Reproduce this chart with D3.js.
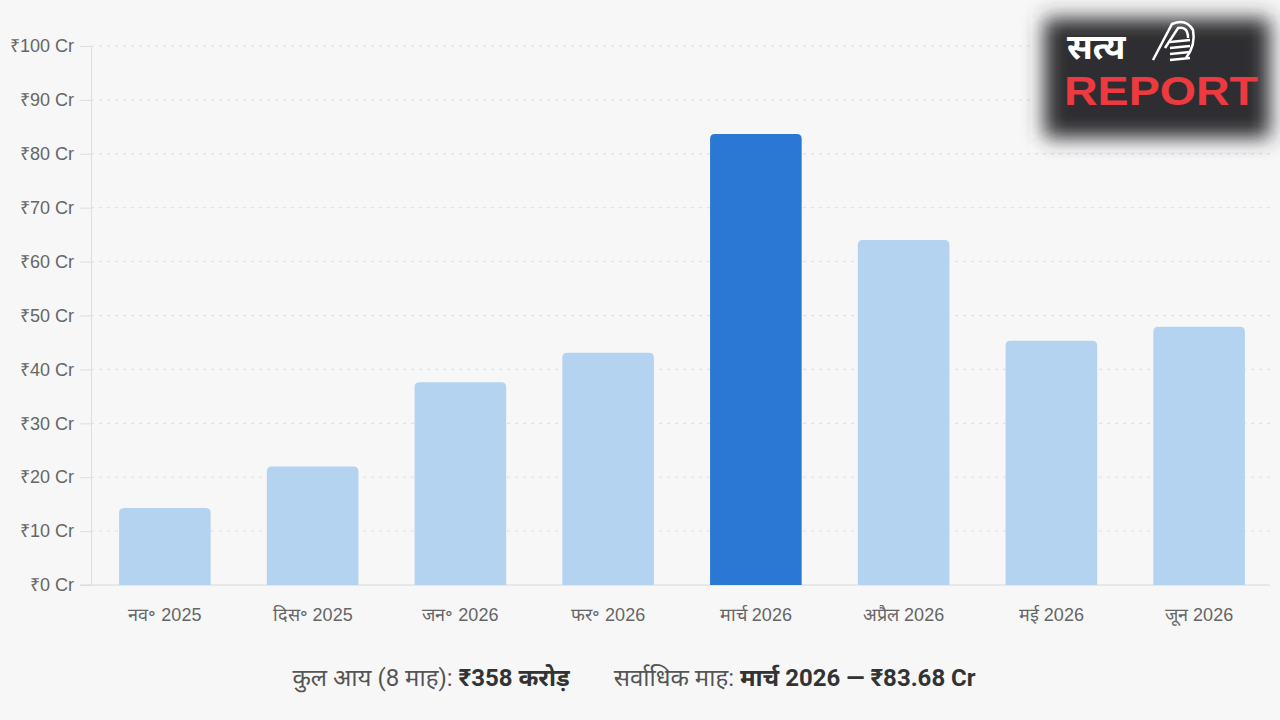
<!DOCTYPE html>
<html>
<head>
<meta charset="utf-8">
<script src="https://cdn.jsdelivr.net/npm/d3@7"></script>
<style>
  body { margin: 0; background: #f7f7f7; }
  svg { display: block; font-family: Roboto, "Noto Sans", "Noto Sans Devanagari", sans-serif; }
  .tick text { fill: #666; font-family: "Liberation Sans", Arial, sans-serif; }
</style>
</head>
<body>
<svg width="1280" height="720"></svg>
<script>
var months = ["नव॰ 2025", "दिस॰ 2025", "जन॰ 2026", "फर॰ 2026", "मार्च 2026", "अप्रैल 2026", "मई 2026", "जून 2026"];
var income = [14.3, 22.0, 37.6, 43.1, 83.68, 64.0, 45.3, 47.9];
var yTicks = [0, 10, 20, 30, 40, 50, 60, 70, 80, 90, 100];
var peakMonth = "मार्च 2026";

var svg = d3.select("svg"),
    width = +svg.attr("width"),
    height = +svg.attr("height"),
    margin = { top: 46, bottom: 135, left: 91, right: 7 };

svg.append("rect").attr("width", width).attr("height", height).attr("fill", "#f7f7f7");

var x = d3.scaleBand()
    .domain(months)
    .range([margin.left, width - margin.right])
    .paddingInner(0.38)
    .paddingOuter(0.19);

var y = d3.scaleLinear()
    .domain([0, 100])
    .range([height - margin.bottom, margin.top]);

// grid
svg.append("g")
  .selectAll("line")
  .data(yTicks.slice(1))
  .enter().append("line")
    .attr("x1", margin.left)
    .attr("x2", 1270)
    .attr("y1", function (d) { return y(d); })
    .attr("y2", function (d) { return y(d); })
    .attr("stroke", "#dcdcdc")
    .attr("stroke-dasharray", "3,5");

// y axis
var yAxis = svg.append("g")
    .attr("transform", "translate(" + margin.left + ",0)")
    .call(d3.axisLeft(y).tickValues(yTicks).tickSize(11).tickPadding(6)
      .tickFormat(function (d) { return "₹" + d + " Cr"; }));
yAxis.select(".domain").attr("stroke", "#dedede");
yAxis.selectAll(".tick line").attr("stroke", "#dedede");
yAxis.selectAll(".tick text").attr("font-size", 18).attr("fill", "#666");

// baseline
svg.append("line")
    .attr("x1", margin.left - 11).attr("x2", 1270)
    .attr("y1", y(0)).attr("y2", y(0))
    .attr("stroke", "#d8d8d8");

// bars (rounded top)
function barPath(d, i) {
  var x0 = x(months[i]), w = x.bandwidth(), y0 = y(0), y1 = y(d), r = 5;
  return "M" + x0 + "," + y0 +
    "V" + (y1 + r) + "Q" + x0 + "," + y1 + " " + (x0 + r) + "," + y1 +
    "H" + (x0 + w - r) + "Q" + (x0 + w) + "," + y1 + " " + (x0 + w) + "," + (y1 + r) +
    "V" + y0 + "Z";
}
svg.append("g")
  .selectAll("path")
  .data(income)
  .enter().append("path")
    .attr("d", barPath)
    .attr("fill", function (d, i) { return months[i] === peakMonth ? "#2a77d4" : "#b4d3f1"; });

// x labels
var xAxis = svg.append("g")
    .attr("transform", "translate(0," + y(0) + ")")
    .call(d3.axisBottom(x).tickSize(0).tickPadding(23));
xAxis.select(".domain").remove();
xAxis.selectAll(".tick text").attr("font-size", 18).attr("fill", "#666");

// footer summary
var footer = svg.append("text")
    .attr("x", 634)
    .attr("y", 686)
    .attr("text-anchor", "middle")
    .attr("font-size", 24)
    .attr("fill", "#555");
footer.append("tspan").text("कुल आय (8 माह): ");
footer.append("tspan").attr("font-weight", "bold").attr("fill", "#333")
    .text("₹" + Math.round(d3.sum(income)) + " करोड़");
footer.append("tspan").attr("dx", 44).text("सर्वाधिक माह: ");
footer.append("tspan").attr("font-weight", "bold").attr("fill", "#333")
    .text(peakMonth + " — ₹" + d3.max(income).toFixed(2) + " Cr");

// logo
var defs = svg.append("defs");
defs.append("filter").attr("id", "blur")
    .attr("x", "-20%").attr("y", "-20%").attr("width", "140%").attr("height", "140%")
  .append("feGaussianBlur").attr("stdDeviation", 10);
var logo = svg.append("g");
logo.append("rect")
    .attr("x", 1030).attr("y", 10).attr("width", 242).attr("height", 142)
    .attr("fill", "#fafafa");
logo.append("rect")
    .attr("x", 1044).attr("y", 18).attr("width", 226).attr("height", 120)
    .attr("fill", "#2e2e30").attr("filter", "url(#blur)");
logo.append("text")
    .attr("x", 1067).attr("y", 59)
    .attr("font-size", 35).attr("font-weight", "bold").attr("fill", "#fff")
    .text("सत्य");
// paper icon strokes
var icon = logo.append("g").attr("fill", "none").attr("stroke", "#fff").attr("stroke-width", 2.5);
icon.append("path").attr("d", "M1153,60 L1172,24 Q1186,18 1193,30 Q1196,45 1186,58");
icon.append("path").attr("d", "M1165,48 L1178,28 Q1188,26 1188,38");
[42, 48, 54, 60].forEach(function (yy) {
  icon.append("line").attr("x1", 1170).attr("x2", 1190).attr("y1", yy).attr("y2", yy - 2);
});
logo.append("text")
    .attr("x", 1064).attr("y", 105)
    .attr("font-size", 41).attr("font-weight", 900)
    .attr("font-family", "'Liberation Sans', Arial, sans-serif")
    .attr("textLength", 194).attr("lengthAdjust", "spacingAndGlyphs")
    .attr("fill", "#ec3a40")
    .text("REPORT");
</script>
</body>
</html>
